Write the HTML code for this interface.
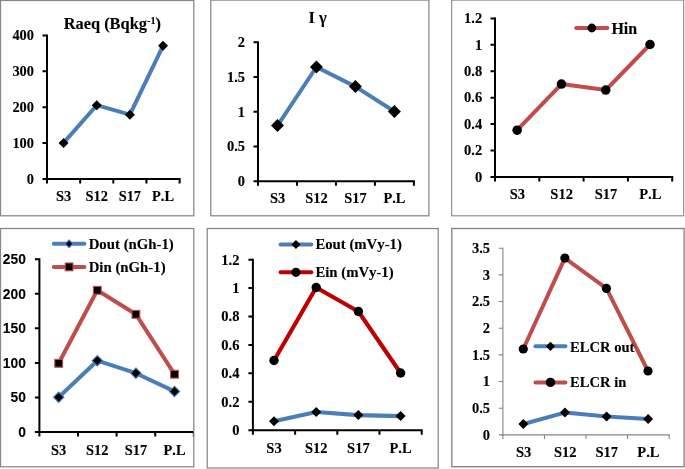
<!DOCTYPE html>
<html><head><meta charset="utf-8"><title>charts</title>
<style>
html,body{margin:0;padding:0;background:#fff;}
body{width:685px;height:469px;overflow:hidden;font-family:"Liberation Serif",serif;}
svg{display:block;will-change:transform;transform:translateZ(0);}
text{font-kerning:none;}
.t{font-family:"Liberation Serif",serif;font-weight:bold;fill:#000;stroke:#000;stroke-width:0.12px;}
.s{font-family:"Liberation Sans",sans-serif;font-weight:bold;fill:#000;stroke:#000;stroke-width:0.08px;}
</style></head><body>
<svg width="685" height="469" viewBox="0 0 685 469">
<rect width="685" height="469" fill="#fff"/>
<rect x="0.5" y="0.5" width="193.3" height="215.3" fill="#fff" stroke="#878787" stroke-width="1.25"/>
<clipPath id="c1"><rect x="1" y="1" width="192.3" height="214.3"/></clipPath>
<g clip-path="url(#c1)">
<polyline points="63.58,142.90 96.72,105.20 129.88,114.70 163.02,45.80" fill="none" stroke="#4a7ebb" stroke-width="4" stroke-linejoin="round" stroke-linecap="round"/>
<path d="M63.58 137.90L68.58 142.90L63.58 147.90L58.58 142.90Z" fill="#000"/>
<path d="M96.72 100.20L101.72 105.20L96.72 110.20L91.72 105.20Z" fill="#000"/>
<path d="M129.88 109.70L134.88 114.70L129.88 119.70L124.88 114.70Z" fill="#000"/>
<path d="M163.02 40.80L168.02 45.80L163.02 50.80L158.02 45.80Z" fill="#000"/>
<path d="M47 34.4V180.0" stroke="#000" stroke-width="2" fill="none"/>
<path d="M46.0 179H180.6" stroke="#000" stroke-width="2" fill="none"/>
<path d="M42.5 179.00H47" stroke="#000" stroke-width="2" fill="none"/>
<text x="34.00" y="183.80" font-size="14.4" text-anchor="end" class="t" >0</text>
<path d="M42.5 143.10H47" stroke="#000" stroke-width="2" fill="none"/>
<text x="34.00" y="147.90" font-size="14.4" text-anchor="end" class="t" >100</text>
<path d="M42.5 107.20H47" stroke="#000" stroke-width="2" fill="none"/>
<text x="34.00" y="112.00" font-size="14.4" text-anchor="end" class="t" >200</text>
<path d="M42.5 71.30H47" stroke="#000" stroke-width="2" fill="none"/>
<text x="34.00" y="76.10" font-size="14.4" text-anchor="end" class="t" >300</text>
<path d="M42.5 35.40H47" stroke="#000" stroke-width="2" fill="none"/>
<text x="34.00" y="40.20" font-size="14.4" text-anchor="end" class="t" >400</text>
<path d="M47.00 179V183.5" stroke="#000" stroke-width="2" fill="none"/>
<path d="M80.15 179V183.5" stroke="#000" stroke-width="2" fill="none"/>
<path d="M113.30 179V183.5" stroke="#000" stroke-width="2" fill="none"/>
<path d="M146.45 179V183.5" stroke="#000" stroke-width="2" fill="none"/>
<path d="M179.60 179V183.5" stroke="#000" stroke-width="2" fill="none"/>
<text x="63.58" y="200.60" font-size="14.4" text-anchor="middle" class="t" >S3</text>
<text x="96.72" y="200.60" font-size="14.4" text-anchor="middle" class="t" >S12</text>
<text x="129.88" y="200.60" font-size="14.4" text-anchor="middle" class="t" >S17</text>
<text x="163.02" y="200.60" font-size="14.4" text-anchor="middle" class="t" >P.L</text>
<text x="112.30" y="28.60" font-size="16.4" text-anchor="middle" class="t" >Raeq (Bqkg<tspan font-size="10.2" dy="-4.4">-1</tspan><tspan dy="4.4">)</tspan></text>
</g>
<rect x="210.8" y="0.09999999999999998" width="218.09999999999997" height="215.70000000000002" fill="#fff" stroke="#878787" stroke-width="1.25"/>
<clipPath id="c2"><rect x="211.3" y="0.6" width="217.09999999999997" height="214.70000000000002"/></clipPath>
<g clip-path="url(#c2)">
<polyline points="277.49,125.60 316.46,67.00 355.44,86.60 394.41,111.50" fill="none" stroke="#4a7ebb" stroke-width="4" stroke-linejoin="round" stroke-linecap="round"/>
<path d="M277.49 119.10L283.99 125.60L277.49 132.10L270.99 125.60Z" fill="#000"/>
<path d="M316.46 60.50L322.96 67.00L316.46 73.50L309.96 67.00Z" fill="#000"/>
<path d="M355.44 80.10L361.94 86.60L355.44 93.10L348.94 86.60Z" fill="#000"/>
<path d="M394.41 105.00L400.91 111.50L394.41 118.00L387.91 111.50Z" fill="#000"/>
<path d="M258 41.2V182.2" stroke="#000" stroke-width="2" fill="none"/>
<path d="M257.0 181.2H414.9" stroke="#000" stroke-width="2" fill="none"/>
<path d="M253.5 181.20H258" stroke="#000" stroke-width="2" fill="none"/>
<text x="245.00" y="186.00" font-size="14.4" text-anchor="end" class="t" >0</text>
<path d="M253.5 146.45H258" stroke="#000" stroke-width="2" fill="none"/>
<text x="245.00" y="151.25" font-size="14.4" text-anchor="end" class="t" >0.5</text>
<path d="M253.5 111.70H258" stroke="#000" stroke-width="2" fill="none"/>
<text x="245.00" y="116.50" font-size="14.4" text-anchor="end" class="t" >1</text>
<path d="M253.5 76.95H258" stroke="#000" stroke-width="2" fill="none"/>
<text x="245.00" y="81.75" font-size="14.4" text-anchor="end" class="t" >1.5</text>
<path d="M253.5 42.20H258" stroke="#000" stroke-width="2" fill="none"/>
<text x="245.00" y="47.00" font-size="14.4" text-anchor="end" class="t" >2</text>
<path d="M258.00 181.2V185.7" stroke="#000" stroke-width="2" fill="none"/>
<path d="M296.98 181.2V185.7" stroke="#000" stroke-width="2" fill="none"/>
<path d="M335.95 181.2V185.7" stroke="#000" stroke-width="2" fill="none"/>
<path d="M374.92 181.2V185.7" stroke="#000" stroke-width="2" fill="none"/>
<path d="M413.90 181.2V185.7" stroke="#000" stroke-width="2" fill="none"/>
<text x="277.49" y="203.20" font-size="14.4" text-anchor="middle" class="t" >S3</text>
<text x="316.46" y="203.20" font-size="14.4" text-anchor="middle" class="t" >S12</text>
<text x="355.44" y="203.20" font-size="14.4" text-anchor="middle" class="t" >S17</text>
<text x="394.41" y="203.20" font-size="14.4" text-anchor="middle" class="t" >P.L</text>
<text x="317.60" y="22.70" font-size="16.4" text-anchor="middle" class="t" >I γ</text>
</g>
<rect x="451.7" y="0.09999999999999998" width="232.00000000000006" height="215.70000000000002" fill="#fff" stroke="#878787" stroke-width="1.1"/>
<clipPath id="c3"><rect x="452.2" y="0.6" width="231.00000000000006" height="214.70000000000002"/></clipPath>
<g clip-path="url(#c3)">
<polyline points="517.15,130.20 561.45,84.10 605.75,90.10 650.05,44.50" fill="none" stroke="#bf4d4a" stroke-width="4" stroke-linejoin="round" stroke-linecap="round"/>
<circle cx="517.15" cy="130.20" r="4.75" fill="#000"/>
<circle cx="561.45" cy="84.10" r="4.75" fill="#000"/>
<circle cx="605.75" cy="90.10" r="4.75" fill="#000"/>
<circle cx="650.05" cy="44.50" r="4.75" fill="#000"/>
<path d="M495 17.4V177.9" stroke="#000" stroke-width="2" fill="none"/>
<path d="M494.0 176.9H673.2" stroke="#000" stroke-width="2" fill="none"/>
<path d="M490.5 176.90H495" stroke="#000" stroke-width="2" fill="none"/>
<text x="482.20" y="181.70" font-size="14.5" text-anchor="end" class="t" >0</text>
<path d="M490.5 150.48H495" stroke="#000" stroke-width="2" fill="none"/>
<text x="482.20" y="155.28" font-size="14.5" text-anchor="end" class="t" >0.2</text>
<path d="M490.5 124.07H495" stroke="#000" stroke-width="2" fill="none"/>
<text x="482.20" y="128.87" font-size="14.5" text-anchor="end" class="t" >0.4</text>
<path d="M490.5 97.65H495" stroke="#000" stroke-width="2" fill="none"/>
<text x="482.20" y="102.45" font-size="14.5" text-anchor="end" class="t" >0.6</text>
<path d="M490.5 71.23H495" stroke="#000" stroke-width="2" fill="none"/>
<text x="482.20" y="76.03" font-size="14.5" text-anchor="end" class="t" >0.8</text>
<path d="M490.5 44.82H495" stroke="#000" stroke-width="2" fill="none"/>
<text x="482.20" y="49.62" font-size="14.5" text-anchor="end" class="t" >1</text>
<path d="M490.5 18.40H495" stroke="#000" stroke-width="2" fill="none"/>
<text x="482.20" y="23.20" font-size="14.5" text-anchor="end" class="t" >1.2</text>
<path d="M495.00 176.9V181.4" stroke="#000" stroke-width="2" fill="none"/>
<path d="M539.30 176.9V181.4" stroke="#000" stroke-width="2" fill="none"/>
<path d="M583.60 176.9V181.4" stroke="#000" stroke-width="2" fill="none"/>
<path d="M627.90 176.9V181.4" stroke="#000" stroke-width="2" fill="none"/>
<path d="M672.20 176.9V181.4" stroke="#000" stroke-width="2" fill="none"/>
<text x="517.35" y="199.20" font-size="14.5" text-anchor="middle" class="t" >S3</text>
<text x="561.65" y="199.20" font-size="14.5" text-anchor="middle" class="t" >S12</text>
<text x="605.95" y="199.20" font-size="14.5" text-anchor="middle" class="t" >S17</text>
<text x="650.25" y="199.20" font-size="14.5" text-anchor="middle" class="t" >P.L</text>
<path d="M576.2 28H607.4" stroke="#bf4d4a" stroke-width="4" stroke-linecap="round" fill="none"/>
<circle cx="591.80" cy="28.00" r="4.4" fill="#000"/>
<text x="611.40" y="33.60" font-size="16" text-anchor="start" class="t" >Hin</text>
</g>
<rect x="0.5" y="228.5" width="193.3" height="238.3" fill="#fff" stroke="#878787" stroke-width="1.25"/>
<clipPath id="c4"><rect x="1" y="229" width="192.3" height="237.3"/></clipPath>
<g clip-path="url(#c4)">
<polyline points="58.70,363.30 97.30,290.30 135.90,314.30 174.50,374.20" fill="none" stroke="#bf4d4a" stroke-width="4" stroke-linejoin="round" stroke-linecap="round"/>
<polyline points="58.70,397.20 97.30,360.70 135.90,373.20 174.50,391.40" fill="none" stroke="#4a7ebb" stroke-width="4" stroke-linejoin="round" stroke-linecap="round"/>
<rect x="54.80" y="359.40" width="7.8" height="7.8" fill="#000" stroke="#bf4d4a" stroke-width="1.1"/>
<rect x="93.40" y="286.40" width="7.8" height="7.8" fill="#000" stroke="#bf4d4a" stroke-width="1.1"/>
<rect x="132.00" y="310.40" width="7.8" height="7.8" fill="#000" stroke="#bf4d4a" stroke-width="1.1"/>
<rect x="170.60" y="370.30" width="7.8" height="7.8" fill="#000" stroke="#bf4d4a" stroke-width="1.1"/>
<path d="M58.70 392.00L63.90 397.20L58.70 402.40L53.50 397.20Z" fill="#000" stroke="#4a7ebb" stroke-width="1.1"/>
<path d="M97.30 355.50L102.50 360.70L97.30 365.90L92.10 360.70Z" fill="#000" stroke="#4a7ebb" stroke-width="1.1"/>
<path d="M135.90 368.00L141.10 373.20L135.90 378.40L130.70 373.20Z" fill="#000" stroke="#4a7ebb" stroke-width="1.1"/>
<path d="M174.50 386.20L179.70 391.40L174.50 396.60L169.30 391.40Z" fill="#000" stroke="#4a7ebb" stroke-width="1.1"/>
<path d="M39.4 258.2V433.0" stroke="#000" stroke-width="2" fill="none"/>
<path d="M38.4 432H194.8" stroke="#000" stroke-width="2" fill="none"/>
<path d="M34.9 432.00H39.4" stroke="#000" stroke-width="2" fill="none"/>
<text x="25.90" y="436.80" font-size="13.8" text-anchor="end" class="s" >0</text>
<path d="M34.9 397.44H39.4" stroke="#000" stroke-width="2" fill="none"/>
<text x="25.90" y="402.24" font-size="13.8" text-anchor="end" class="s" >50</text>
<path d="M34.9 362.88H39.4" stroke="#000" stroke-width="2" fill="none"/>
<text x="25.90" y="367.68" font-size="13.8" text-anchor="end" class="s" >100</text>
<path d="M34.9 328.32H39.4" stroke="#000" stroke-width="2" fill="none"/>
<text x="25.90" y="333.12" font-size="13.8" text-anchor="end" class="s" >150</text>
<path d="M34.9 293.76H39.4" stroke="#000" stroke-width="2" fill="none"/>
<text x="25.90" y="298.56" font-size="13.8" text-anchor="end" class="s" >200</text>
<path d="M34.9 259.20H39.4" stroke="#000" stroke-width="2" fill="none"/>
<text x="25.90" y="264.00" font-size="13.8" text-anchor="end" class="s" >250</text>
<path d="M39.40 432V436.5" stroke="#000" stroke-width="2" fill="none"/>
<path d="M78.00 432V436.5" stroke="#000" stroke-width="2" fill="none"/>
<path d="M116.60 432V436.5" stroke="#000" stroke-width="2" fill="none"/>
<path d="M155.20 432V436.5" stroke="#000" stroke-width="2" fill="none"/>
<path d="M193.80 432V436.5" stroke="#000" stroke-width="2" fill="none"/>
<text x="58.70" y="454.70" font-size="14.4" text-anchor="middle" class="t" >S3</text>
<text x="97.30" y="454.70" font-size="14.4" text-anchor="middle" class="t" >S12</text>
<text x="135.90" y="454.70" font-size="14.4" text-anchor="middle" class="t" >S17</text>
<text x="174.50" y="454.70" font-size="14.4" text-anchor="middle" class="t" >P.L</text>
<path d="M53.8 243.8H84.4" stroke="#4a7ebb" stroke-width="4" stroke-linecap="round" fill="none"/>
<path d="M69.10 240.00L72.90 243.80L69.10 247.60L65.30 243.80Z" fill="#000" stroke="#4a7ebb" stroke-width="1.1"/>
<text x="88.70" y="248.70" font-size="14.8" text-anchor="start" class="t" >Dout (nGh-1)</text>
<path d="M53.8 266.9H84.4" stroke="#bf4d4a" stroke-width="4" stroke-linecap="round" fill="none"/>
<rect x="65.20" y="263.00" width="7.8" height="7.8" fill="#000" stroke="#bf4d4a" stroke-width="1.1"/>
<text x="88.70" y="272.00" font-size="14.8" text-anchor="start" class="t" >Din (nGh-1)</text>
</g>
<rect x="207.2" y="228.5" width="231.0" height="239.5" fill="#fff" stroke="#878787" stroke-width="1.25"/>
<clipPath id="c5"><rect x="207.7" y="229" width="230.0" height="238.5"/></clipPath>
<g clip-path="url(#c5)">
<polyline points="274.00,360.50 316.20,287.50 358.40,311.50 400.60,373.00" fill="none" stroke="#c00000" stroke-width="4.15" stroke-linejoin="round" stroke-linecap="round"/>
<polyline points="274.00,421.30 316.20,412.00 358.40,415.10 400.60,416.10" fill="none" stroke="#4a7ebb" stroke-width="4.15" stroke-linejoin="round" stroke-linecap="round"/>
<circle cx="274.00" cy="360.50" r="4.7" fill="#000"/>
<circle cx="316.20" cy="287.50" r="4.7" fill="#000"/>
<circle cx="358.40" cy="311.50" r="4.7" fill="#000"/>
<circle cx="400.60" cy="373.00" r="4.7" fill="#000"/>
<path d="M274.00 416.30L279.00 421.30L274.00 426.30L269.00 421.30Z" fill="#000"/>
<path d="M316.20 407.00L321.20 412.00L316.20 417.00L311.20 412.00Z" fill="#000"/>
<path d="M358.40 410.10L363.40 415.10L358.40 420.10L353.40 415.10Z" fill="#000"/>
<path d="M400.60 411.10L405.60 416.10L400.60 421.10L395.60 416.10Z" fill="#000"/>
<path d="M252.9 258.7V431.2" stroke="#000" stroke-width="2" fill="none"/>
<path d="M251.9 430.2H422.7" stroke="#000" stroke-width="2" fill="none"/>
<path d="M248.4 430.20H252.9" stroke="#000" stroke-width="2" fill="none"/>
<text x="239.40" y="435.00" font-size="14.5" text-anchor="end" class="t" >0</text>
<path d="M248.4 401.78H252.9" stroke="#000" stroke-width="2" fill="none"/>
<text x="239.40" y="406.58" font-size="14.5" text-anchor="end" class="t" >0.2</text>
<path d="M248.4 373.37H252.9" stroke="#000" stroke-width="2" fill="none"/>
<text x="239.40" y="378.17" font-size="14.5" text-anchor="end" class="t" >0.4</text>
<path d="M248.4 344.95H252.9" stroke="#000" stroke-width="2" fill="none"/>
<text x="239.40" y="349.75" font-size="14.5" text-anchor="end" class="t" >0.6</text>
<path d="M248.4 316.53H252.9" stroke="#000" stroke-width="2" fill="none"/>
<text x="239.40" y="321.33" font-size="14.5" text-anchor="end" class="t" >0.8</text>
<path d="M248.4 288.12H252.9" stroke="#000" stroke-width="2" fill="none"/>
<text x="239.40" y="292.92" font-size="14.5" text-anchor="end" class="t" >1</text>
<path d="M248.4 259.70H252.9" stroke="#000" stroke-width="2" fill="none"/>
<text x="239.40" y="264.50" font-size="14.5" text-anchor="end" class="t" >1.2</text>
<path d="M252.90 430.2V434.7" stroke="#000" stroke-width="2" fill="none"/>
<path d="M295.10 430.2V434.7" stroke="#000" stroke-width="2" fill="none"/>
<path d="M337.30 430.2V434.7" stroke="#000" stroke-width="2" fill="none"/>
<path d="M379.50 430.2V434.7" stroke="#000" stroke-width="2" fill="none"/>
<path d="M421.70 430.2V434.7" stroke="#000" stroke-width="2" fill="none"/>
<text x="274.00" y="452.70" font-size="14.5" text-anchor="middle" class="t" >S3</text>
<text x="316.20" y="452.70" font-size="14.5" text-anchor="middle" class="t" >S12</text>
<text x="358.40" y="452.70" font-size="14.5" text-anchor="middle" class="t" >S17</text>
<text x="400.60" y="452.70" font-size="14.5" text-anchor="middle" class="t" >P.L</text>
<path d="M280.6 244.4H311.3" stroke="#4a7ebb" stroke-width="4" stroke-linecap="round" fill="none"/>
<path d="M295.95 239.90L300.45 244.40L295.95 248.90L291.45 244.40Z" fill="#000"/>
<text x="315.40" y="249.10" font-size="14.75" text-anchor="start" class="t" >Eout (mVy-1)</text>
<path d="M280.6 272.3H311.3" stroke="#c00000" stroke-width="4" stroke-linecap="round" fill="none"/>
<circle cx="295.95" cy="272.30" r="4.6" fill="#000"/>
<text x="315.40" y="276.60" font-size="14.75" text-anchor="start" class="t" >Ein (mVy-1)</text>
</g>
<rect x="451.8" y="228.5" width="232.3" height="238.2" fill="#fff" stroke="#878787" stroke-width="1.4"/>
<clipPath id="c6"><rect x="452.3" y="229" width="231.3" height="237.2"/></clipPath>
<g clip-path="url(#c6)">
<polyline points="523.29,349.00 564.86,258.10 606.44,288.40 648.01,371.00" fill="none" stroke="#bf4d4a" stroke-width="4" stroke-linejoin="round" stroke-linecap="round"/>
<polyline points="523.39,424.00 564.96,412.60 606.54,416.50 648.11,419.10" fill="none" stroke="#4a7ebb" stroke-width="4" stroke-linejoin="round" stroke-linecap="round"/>
<circle cx="523.29" cy="349.00" r="4.6" fill="#000"/>
<circle cx="564.86" cy="258.10" r="4.6" fill="#000"/>
<circle cx="606.44" cy="288.40" r="4.6" fill="#000"/>
<circle cx="648.01" cy="371.00" r="4.6" fill="#000"/>
<path d="M523.39 419.00L528.39 424.00L523.39 429.00L518.39 424.00Z" fill="#000"/>
<path d="M564.96 407.60L569.96 412.60L564.96 417.60L559.96 412.60Z" fill="#000"/>
<path d="M606.54 411.50L611.54 416.50L606.54 421.50L601.54 416.50Z" fill="#000"/>
<path d="M648.11 414.10L653.11 419.10L648.11 424.10L643.11 419.10Z" fill="#000"/>
<path d="M502.9 247.64999999999998V435.45" stroke="#858585" stroke-width="1.1" fill="none"/>
<path d="M502.34999999999997 434.9H669.75" stroke="#858585" stroke-width="1.1" fill="none"/>
<path d="M498.9 434.90H502.9" stroke="#858585" stroke-width="1.1" fill="none"/>
<text x="490.00" y="439.70" font-size="14.5" text-anchor="end" class="t" >0</text>
<path d="M498.9 408.23H502.9" stroke="#858585" stroke-width="1.1" fill="none"/>
<text x="490.00" y="413.03" font-size="14.5" text-anchor="end" class="t" >0.5</text>
<path d="M498.9 381.56H502.9" stroke="#858585" stroke-width="1.1" fill="none"/>
<text x="490.00" y="386.36" font-size="14.5" text-anchor="end" class="t" >1</text>
<path d="M498.9 354.89H502.9" stroke="#858585" stroke-width="1.1" fill="none"/>
<text x="490.00" y="359.69" font-size="14.5" text-anchor="end" class="t" >1.5</text>
<path d="M498.9 328.21H502.9" stroke="#858585" stroke-width="1.1" fill="none"/>
<text x="490.00" y="333.01" font-size="14.5" text-anchor="end" class="t" >2</text>
<path d="M498.9 301.54H502.9" stroke="#858585" stroke-width="1.1" fill="none"/>
<text x="490.00" y="306.34" font-size="14.5" text-anchor="end" class="t" >2.5</text>
<path d="M498.9 274.87H502.9" stroke="#858585" stroke-width="1.1" fill="none"/>
<text x="490.00" y="279.67" font-size="14.5" text-anchor="end" class="t" >3</text>
<path d="M498.9 248.20H502.9" stroke="#858585" stroke-width="1.1" fill="none"/>
<text x="490.00" y="253.00" font-size="14.5" text-anchor="end" class="t" >3.5</text>
<path d="M502.90 434.9V438.9" stroke="#858585" stroke-width="1.1" fill="none"/>
<path d="M544.48 434.9V438.9" stroke="#858585" stroke-width="1.1" fill="none"/>
<path d="M586.05 434.9V438.9" stroke="#858585" stroke-width="1.1" fill="none"/>
<path d="M627.62 434.9V438.9" stroke="#858585" stroke-width="1.1" fill="none"/>
<path d="M669.20 434.9V438.9" stroke="#858585" stroke-width="1.1" fill="none"/>
<text x="523.69" y="456.50" font-size="14.5" text-anchor="middle" class="t" >S3</text>
<text x="565.26" y="456.50" font-size="14.5" text-anchor="middle" class="t" >S12</text>
<text x="606.84" y="456.50" font-size="14.5" text-anchor="middle" class="t" >S17</text>
<text x="648.41" y="456.50" font-size="14.5" text-anchor="middle" class="t" >P.L</text>
<path d="M535.5 346.3H565.4" stroke="#4a7ebb" stroke-width="4" stroke-linecap="round" fill="none"/>
<path d="M550.45 341.70L555.05 346.30L550.45 350.90L545.85 346.30Z" fill="#000"/>
<text x="570.00" y="351.60" font-size="14.6" text-anchor="start" class="t" >ELCR out</text>
<path d="M535.5 382.4H565.4" stroke="#bf4d4a" stroke-width="4" stroke-linecap="round" fill="none"/>
<circle cx="550.45" cy="382.40" r="4.7" fill="#000"/>
<text x="570.00" y="386.90" font-size="14.6" text-anchor="start" class="t" >ELCR in</text>
</g>
</svg>
</body></html>
